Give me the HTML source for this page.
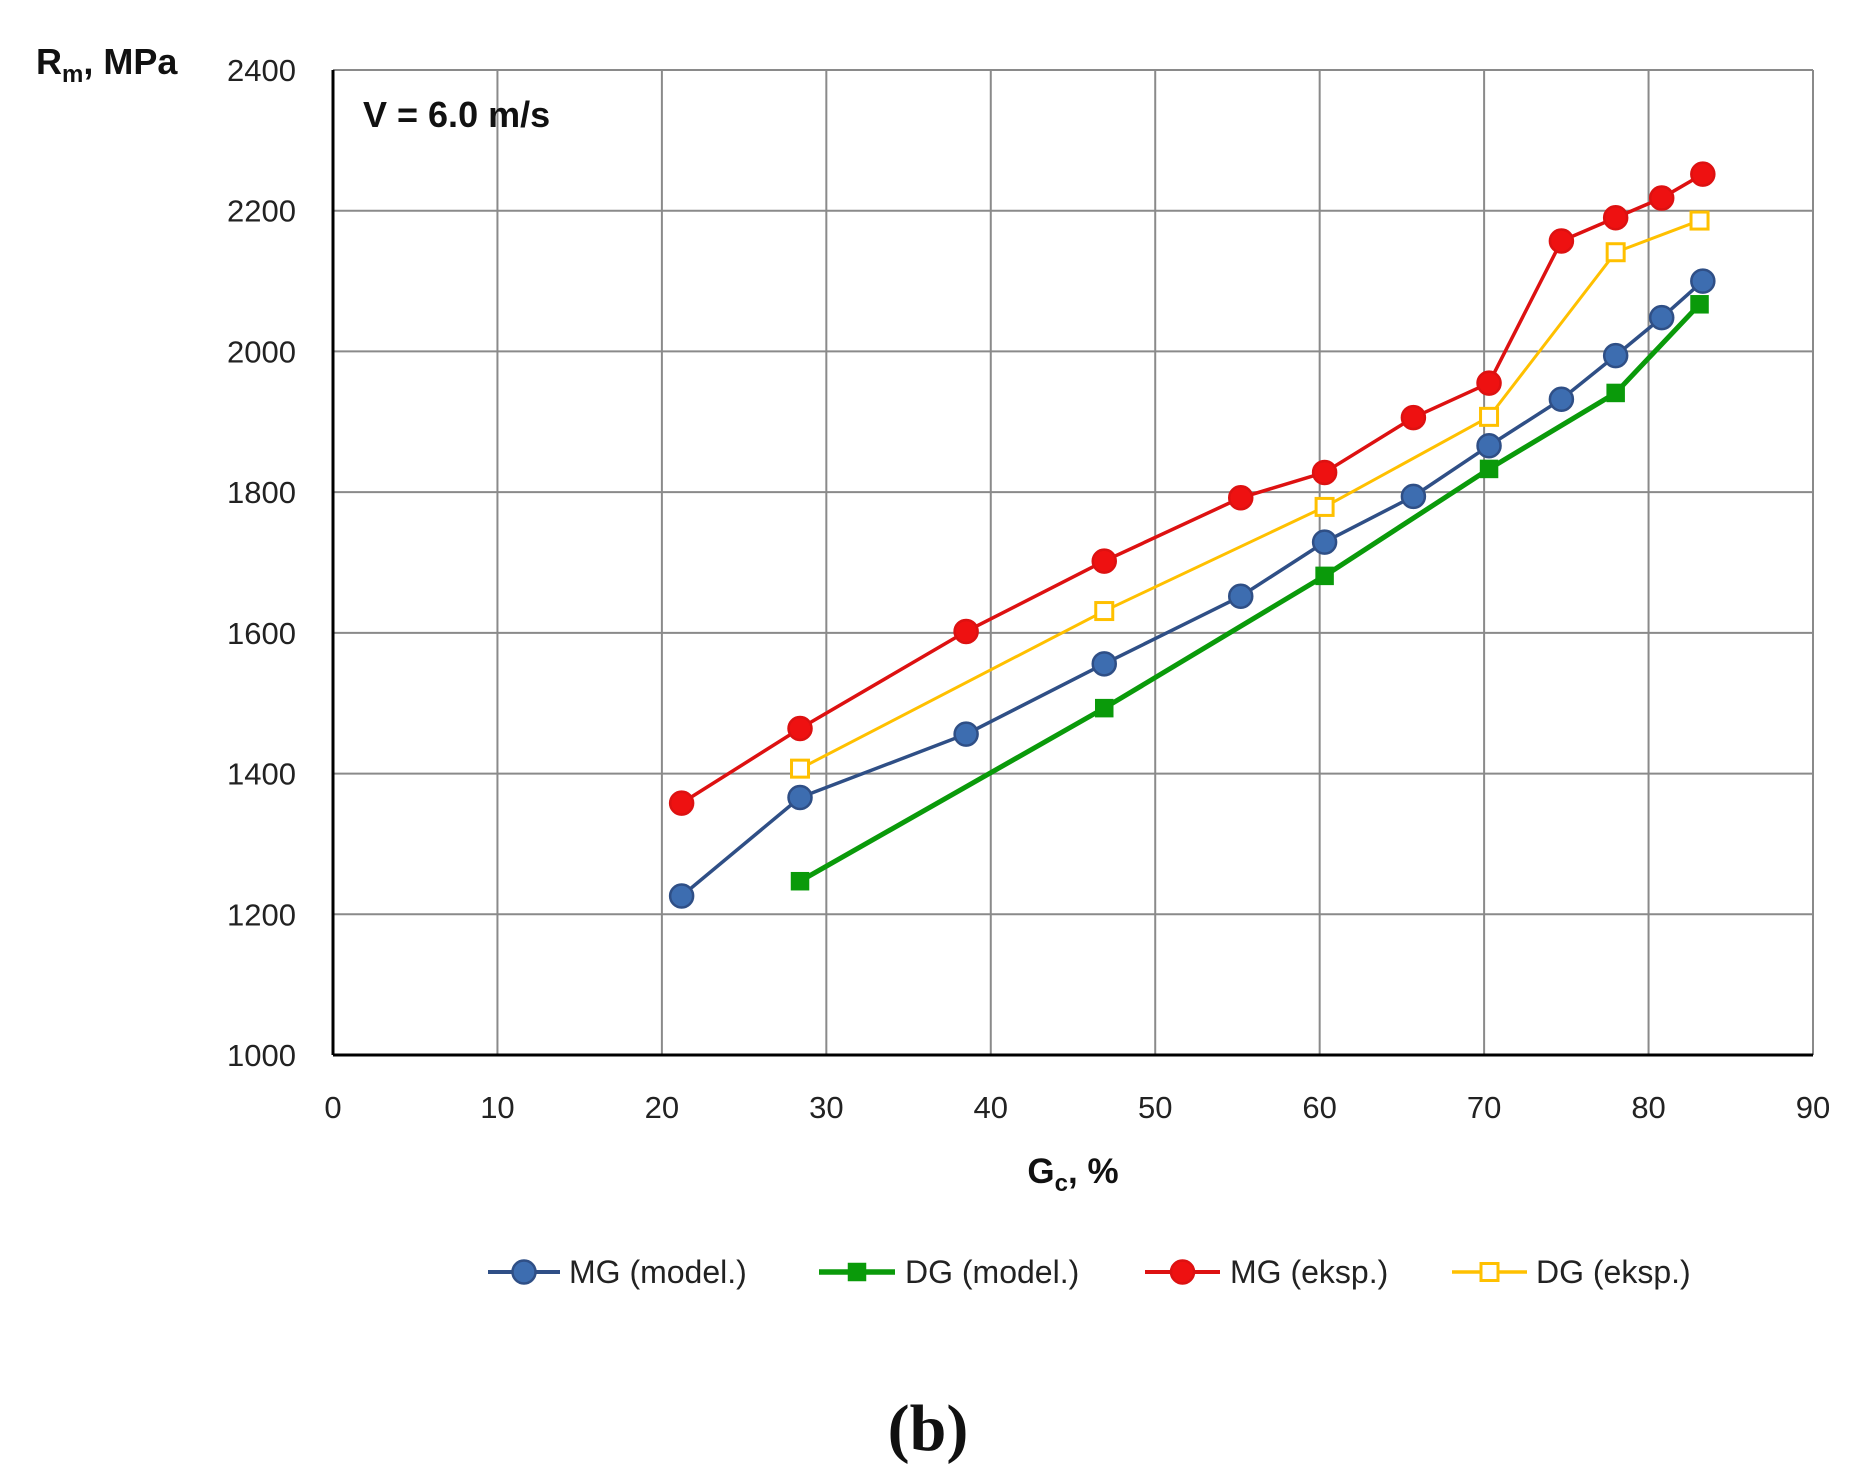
<!DOCTYPE html>
<html><head><meta charset="utf-8"><style>
html,body{margin:0;padding:0;background:#fff;}
svg{display:block;font-family:"Liberation Sans",sans-serif;}
</style></head><body>
<svg id="s" width="1868" height="1484" viewBox="0 0 1868 1484" xmlns="http://www.w3.org/2000/svg">
<rect width="1868" height="1484" fill="#fff"/>
<g id="grid"></g>
<g id="series"></g>
<text x="36" y="74" font-size="36" font-weight="bold" fill="#111">R<tspan font-size="24" dy="8">m</tspan><tspan dy="-8">, MPa</tspan></text>
<text x="363" y="127" font-size="36" font-weight="bold" fill="#111">V = 6.0 m/s</text>
<text x="1073" y="1183" font-size="35" font-weight="bold" fill="#111" text-anchor="middle">G<tspan font-size="24" dy="8">c</tspan><tspan dy="-8">, %</tspan></text>
<text x="928" y="1450" font-size="66" font-weight="bold" font-family="Liberation Serif,serif" text-anchor="middle" fill="#111">(b)</text>
<g id="legend" font-size="32" fill="#222"></g>
</svg>
<script>
const X0=333,X1=1813,Y0=1055,Y1=70;
const sx=v=>X0+(X1-X0)*v/90, sy=v=>Y0-(Y0-Y1)*(v-1000)/1400;
const ns="http://www.w3.org/2000/svg";
function el(p,t,a,txt){const e=document.createElementNS(ns,t);for(const k in a)e.setAttribute(k,a[k]);if(txt!=null)e.textContent=txt;p.appendChild(e);return e;}
const g=document.getElementById('grid');
for(let i=1;i<=9;i++)el(g,'line',{x1:sx(i*10),x2:sx(i*10),y1:Y1,y2:Y0,stroke:'#8a8a8a','stroke-width':2});
for(let v=1200;v<=2400;v+=200)el(g,'line',{x1:X0,x2:X1,y1:sy(v),y2:sy(v),stroke:'#8a8a8a','stroke-width':2});
el(g,'line',{x1:X0,x2:X0,y1:Y1,y2:Y0,stroke:'#000','stroke-width':3});
el(g,'line',{x1:X0,x2:X1,y1:Y0,y2:Y0,stroke:'#000','stroke-width':3});
for(let v=1000;v<=2400;v+=200)el(g,'text',{x:296,y:sy(v)+11,'font-size':31,'text-anchor':'end',fill:'#222'},v);
for(let i=0;i<=9;i++)el(g,'text',{x:sx(i*10),y:1118,'font-size':31,'text-anchor':'middle',fill:'#222'},i*10);
const S=document.getElementById('series');
const data=[
 {c:'#2f4f86',f:'#3d6db0',w:3.5,m:'c',p:[[21.2,1226],[28.4,1366],[38.5,1456],[46.9,1556],[55.2,1652],[60.3,1729],[65.7,1794],[70.3,1866],[74.7,1932],[78.0,1994],[80.8,2048],[83.3,2100]]},
 {c:'#0a9a0a',f:'#0a9a0a',w:5,m:'s',p:[[28.4,1247],[46.9,1493],[60.3,1681],[70.3,1833],[78.0,1941],[83.1,2067]]},
 {c:'#dd1111',f:'#ee1111',w:3.5,m:'c',p:[[21.2,1358],[28.4,1464],[38.5,1602],[46.9,1702],[55.2,1792],[60.3,1828],[65.7,1906],[70.3,1955],[74.7,2157],[78.0,2190],[80.8,2218],[83.3,2252]]},
 {c:'#ffc000',f:'#fff',w:3,m:'s',p:[[28.4,1407],[46.9,1631],[60.3,1779],[70.3,1907],[78.0,2141],[83.1,2186]]}];
function mark(p,d,x,y){
 if(d.m=='c')el(p,'circle',{cx:x,cy:y,r:11.5,fill:d.f,stroke:d.c,'stroke-width':2.5});
 else el(p,'rect',{x:x-8.5,y:y-8.5,width:17,height:17,fill:d.f,stroke:d.c,'stroke-width':d.f=='#fff'?3:1.5});
}
data.forEach(d=>{
 el(S,'polyline',{points:d.p.map(q=>sx(q[0])+','+sy(q[1])).join(' '),fill:'none',stroke:d.c,'stroke-width':d.w,'stroke-linejoin':'round'});
 d.p.forEach(q=>mark(S,d,sx(q[0]),sy(q[1])));
});
const L=document.getElementById('legend');
const leg=[[488,560,569,'MG (model.)'],[819,895,905,'DG (model.)'],[1145,1220,1230,'MG (eksp.)'],[1452,1527,1536,'DG (eksp.)']];
leg.forEach((l,i)=>{const d=data[i];
 el(L,'line',{x1:l[0],x2:l[1],y1:1272,y2:1272,stroke:d.c,'stroke-width':d.w+0.5});
 mark(L,d,(l[0]+l[1])/2,1272);
 el(L,'text',{x:l[2],y:1283},l[3]);
});
</script>
</body></html>
